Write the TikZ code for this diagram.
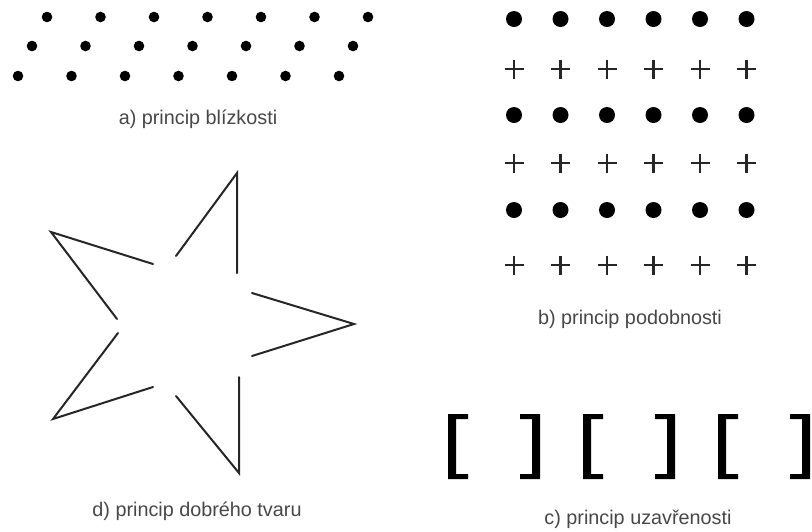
\documentclass[tikz,border=0pt]{standalone}
\usepackage{fontspec}
\setmainfont{Liberation Sans}
\begin{document}
\begin{tikzpicture}[x=1pt,y=-1pt,
  lab/.style={text=black!72, font=\fontsize{19.8}{22}\selectfont, inner sep=0pt, anchor=base},
  sdot/.style={fill=black, draw=none},
  pl/.style={line width=2.4pt, draw=black!85},
  edge/.style={line width=2pt, draw=black!85, line cap=round},
  brk/.style={fill=black, draw=none}]
\useasboundingbox (0,0) rectangle (812,531);
% a) proximity
\foreach \x in {47,100.5,154,207.5,261,314.5,368} \fill[sdot] (\x,17) circle (5.3);
\foreach \x in {32,85.5,139,192.5,246,299.5,353} \fill[sdot] (\x,46) circle (5.3);
\foreach \x in {18,71.5,125,178.5,232,285.5,339} \fill[sdot] (\x,76) circle (5.3);
\node[lab] (la) at (198,124) {a) princip blízkosti};
% b) similarity
\foreach \y in {19,115,210} \foreach \x in {514,560.5,607,653.5,700,746.5} \fill[sdot] (\x,\y) circle (8);
\foreach \y in {69,163,265} \foreach \x in {514,560.5,607,653.5,700,746.5}
  \draw[pl] (\x-9.5,\y) -- (\x+9.5,\y) (\x,\y-9.5) -- (\x,\y+9.5);
\node[lab] (lb) at (630,324) {b) princip podobnosti};
% d) good shape (star)
\coordinate (T) at (237,173);
\coordinate (UL) at (51,232);
\coordinate (R) at (354,324);
\coordinate (LL) at (53,419);
\coordinate (B) at (239,473);
\draw[edge] (176,256) -- (T) -- (237,273);
\draw[edge] (153,264) -- (UL) -- (117,319);
\draw[edge] (252,293) -- (R) -- (252,356);
\draw[edge] (118,333) -- (LL) -- (153,387);
\draw[edge] (176,396) -- (B) -- (239,377);
\node[lab] (ld) at (197,516) {d) princip dobrého tvaru};
% c) closure
\foreach \x in {448,583,718} {
  \fill[brk] (\x,414) -- (\x+20,414) -- (\x+20,419) -- (\x+8,419) -- (\x+8,474) -- (\x+20,474) -- (\x+20,479) -- (\x,479) -- cycle;
}
\foreach \x in {540,675,810} {
  \fill[brk] (\x,414) -- (\x-20,414) -- (\x-20,419) -- (\x-8,419) -- (\x-8,474) -- (\x-20,474) -- (\x-20,479) -- (\x,479) -- cycle;
}
\node[lab] (lc) at (638,524) {c) princip uzavřenosti};
\end{tikzpicture}
\end{document}
